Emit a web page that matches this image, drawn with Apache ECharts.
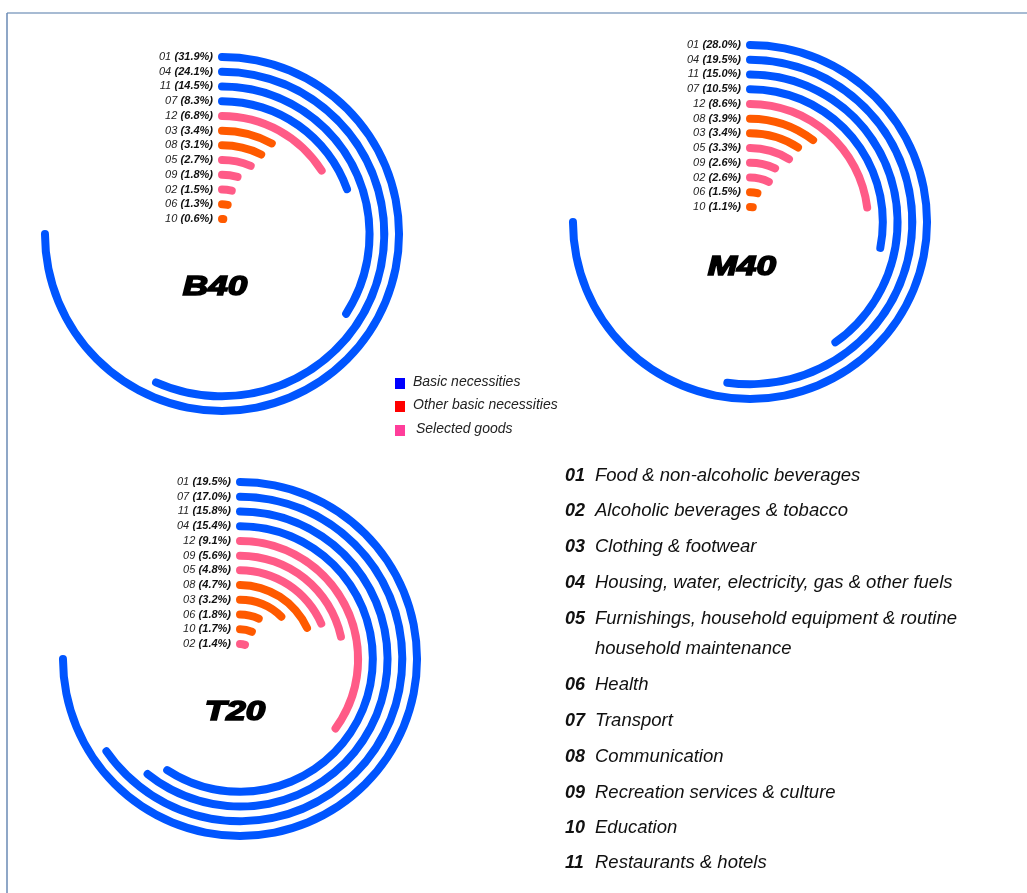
<!DOCTYPE html>
<html>
<head>
<meta charset="utf-8">
<script src="https://cdn.jsdelivr.net/npm/echarts@6/dist/echarts.min.js"></script>
<style>
html,body{margin:0;padding:0;background:#fff;}
#chart{width:1027px;height:893px;}
</style>
</head>
<body>
<div id="chart"></div>
<script>
// ---- data ----
const chartNames = ['B40', 'M40', 'T20'];
const catsB40 = ['01','04','11','07','12','03','08','05','09','02','06','10'];
const valsB40 = [31.9, 24.1, 14.5, 8.3, 6.8, 3.4, 3.1, 2.7, 1.8, 1.5, 1.3, 0.6];
const catsM40 = ['01','04','11','07','12','08','03','05','09','02','06','10'];
const valsM40 = [28.0, 19.5, 15.0, 10.5, 8.6, 3.9, 3.4, 3.3, 2.6, 2.6, 1.5, 1.1];
const catsT20 = ['01','07','11','04','12','09','05','08','03','06','10','02'];
const valsT20 = [19.5, 17.0, 15.8, 15.4, 9.1, 5.6, 4.8, 4.7, 3.2, 1.8, 1.7, 1.4];

const groupBasic = ['01','04','07','11'];
const groupOther = ['03','06','08','10'];
const groupSelected = ['02','05','09','12'];
const groupNames = ['Basic necessities', 'Other basic necessities', 'Selected goods'];

const listCodes = ['01','02','03','04','05','06','07','08','09','10','11'];
const listTexts = [
  'Food & non-alcoholic beverages',
  'Alcoholic beverages & tobacco',
  'Clothing & footwear',
  'Housing, water, electricity, gas & other fuels',
  'Furnishings, household equipment & routine\nhousehold maintenance',
  'Health',
  'Transport',
  'Communication',
  'Recreation services & culture',
  'Education',
  'Restaurants & hotels'
];

// ---- styles ----
const arcColors = {basic: '#0055ff', other: '#ff5a00', selected: '#ff5b87'};
const legendColors = ['#0000ff', '#ff0000', '#ff3d9a'];
const FONT = '"Liberation Sans", Arial, sans-serif';

function colorOf(code) {
  if (groupBasic.includes(code)) return arcColors.basic;
  if (groupOther.includes(code)) return arcColors.other;
  return arcColors.selected;
}

const charts = [
  {cats: catsB40, vals: valsB40, center: [222, 234], title: [215, 288]},
  {cats: catsM40, vals: valsM40, center: [750, 222], title: [742, 268]},
  {cats: catsT20, vals: valsT20, center: [240, 659], title: [235, 713]}
];

const polar = [], angleAxis = [], radiusAxis = [], series = [], graphic = [];

charts.forEach((c, i) => {
  polar.push({center: c.center, radius: [7.6, 184.4]});
  angleAxis.push({
    polarIndex: i, type: 'value', startAngle: 90, clockwise: true,
    min: 0, max: Math.max(...c.vals) / 0.75, show: false
  });
  const valMap = {};
  c.cats.forEach((k, j) => { valMap[k] = c.vals[j]; });
  radiusAxis.push({
    polarIndex: i, type: 'category', data: c.cats, inverse: true, z: 10,
    axisLine: {show: false}, axisTick: {show: false}, splitLine: {show: false},
    axisLabel: {
      show: true, margin: 9, interval: 0,
      formatter: (v) => '{c|' + v + '} {v|(' + valMap[v].toFixed(1) + '%)}',
      rich: {
        c: {fontFamily: FONT, fontSize: 11, fontStyle: 'italic', color: '#222'},
        v: {fontFamily: FONT, fontSize: 11, fontStyle: 'italic', fontWeight: 'bold', color: '#111'}
      }
    }
  });
  series.push({
    type: 'bar', coordinateSystem: 'polar', polarIndex: i,
    roundCap: true, barWidth: 8, silent: true,
    data: c.vals.map((v, j) => ({value: v, itemStyle: {color: colorOf(c.cats[j])}}))
  });
  graphic.push({
    type: 'text', x: c.title[0], y: c.title[1], scaleX: 1.3,
    style: {
      text: chartNames[i], font: 'italic bold 27px ' + FONT,
      fill: '#000', stroke: '#000', lineWidth: 1.6,
      align: 'center', verticalAlign: 'middle'
    }
  });
});

// frame lines
graphic.push({type: 'line', shape: {x1: 7, y1: 13, x2: 1027, y2: 13}, style: {stroke: '#8aa5c5', lineWidth: 1.5}});
graphic.push({type: 'line', shape: {x1: 7, y1: 13, x2: 7, y2: 893}, style: {stroke: '#6a8ab5', lineWidth: 1.5}});

// legend
const legendY = [383, 406, 430];
const legendTextX = [413, 413, 416];
groupNames.forEach((n, i) => {
  graphic.push({type: 'rect', shape: {x: 395, y: legendY[i] - 5, width: 10, height: 11}, style: {fill: legendColors[i]}});
  graphic.push({
    type: 'text', x: legendTextX[i], y: legendY[i] - 1,
    style: {text: n, font: 'italic 14px ' + FONT, fill: '#222', align: 'left', verticalAlign: 'middle'}
  });
});

// code list
const listY = [476, 511, 547, 583, 619, 685, 721, 757, 793, 828, 863];
listCodes.forEach((code, i) => {
  graphic.push({
    type: 'text', x: 565, y: listY[i],
    style: {text: code, font: 'italic bold 18px ' + FONT, fill: '#111', align: 'left', verticalAlign: 'middle'}
  });
  graphic.push({
    type: 'text', x: 595, y: listY[i] - 15,
    style: {text: listTexts[i], font: 'italic 18.5px ' + FONT, lineHeight: 30, fill: '#111', align: 'left', verticalAlign: 'top'}
  });
});

const chart = echarts.init(document.getElementById('chart'), null, {renderer: 'canvas'});
chart.setOption({
  backgroundColor: '#fff',
  animation: false,
  polar: polar,
  angleAxis: angleAxis,
  radiusAxis: radiusAxis,
  series: series,
  graphic: graphic
});
</script>
</body>
</html>
